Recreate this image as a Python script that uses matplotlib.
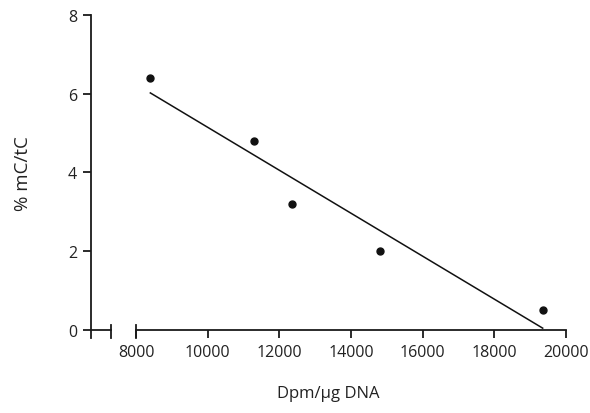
import numpy as np
import matplotlib
matplotlib.use("Agg")
import matplotlib.pyplot as plt
from matplotlib.lines import Line2D

plt.rcParams['font.family'] = ['Open Sans', 'DejaVu Sans']

dpm = [8400, 11300, 12350, 14800, 19350]
mc_tc = [6.4, 4.8, 3.2, 2.0, 0.5]
xticks = [8000, 10000, 12000, 14000, 16000, 18000, 20000]
yticks = [0, 2, 4, 6, 8]

fig = plt.figure(figsize=(5.9, 4.14), dpi=100)
ax = fig.add_axes([0.1542, 0.2005, 0.9593 - 0.1542, 0.9614 - 0.2005])

axc = '#1a1a1a'
txc = '#222222'
ax.plot(dpm, mc_tc, 'o', color='#111111', markersize=5, zorder=3)
slope, icpt = np.polyfit(dpm, mc_tc, 1)
xs = np.array([min(dpm), max(dpm)])
ax.plot(xs, slope * xs + icpt, color='#111111', lw=1.1)

xmin = 6743
ax.set_xlim(xmin, 20000)
ax.set_ylim(0, 8)
ax.set_xticks(xticks)
ax.set_yticks(yticks)
ax.tick_params(direction='out', length=6, width=1.3, color=axc, labelsize=11.5, labelcolor=txc)
ax.tick_params(axis='x', pad=4)
ax.tick_params(axis='y', pad=4)

for s in ['top', 'right']:
    ax.spines[s].set_visible(False)
for s in ['left', 'bottom']:
    ax.spines[s].set_linewidth(1.3)
    ax.spines[s].set_color(axc)
ax.spines['bottom'].set_bounds(8000, 20000)

# broken-axis left segment and break markers
dn, up = -0.2, 0.13
segs = [([xmin, 7300], [0, 0]), ([xmin, xmin], [dn, 0]),
        ([7300, 7300], [dn, up]), ([8000, 8000], [dn, up])]
for xx, yy in segs:
    ax.add_line(Line2D(xx, yy, color=axc, lw=1.3, clip_on=False))

ax.set_xlabel('Dpm/µg DNA', fontsize=12, color=txc, labelpad=18)
ax.set_ylabel('% mC/tC', fontsize=13.5, color=txc, labelpad=26)

fig.savefig('out.png', dpi=100)
